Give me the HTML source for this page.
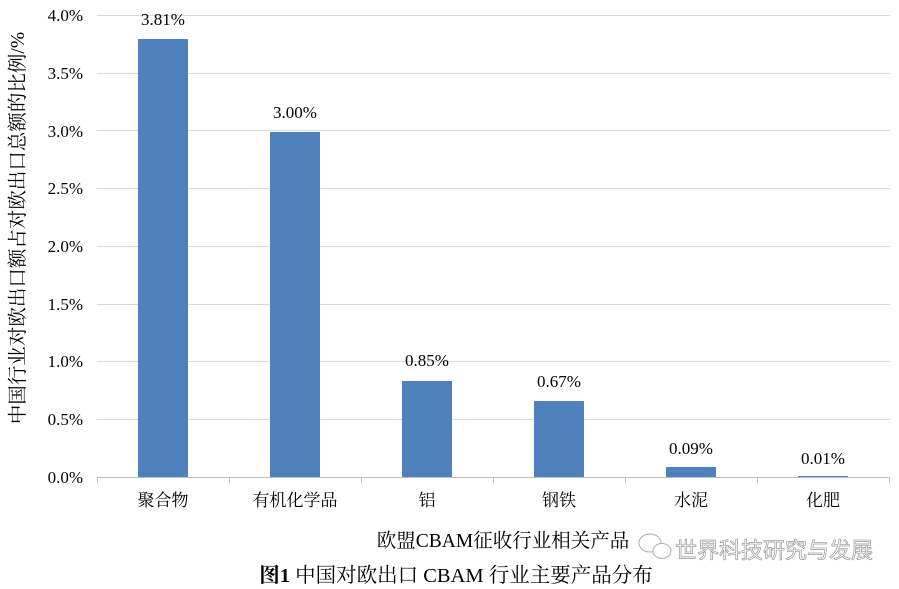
<!DOCTYPE html>
<html><head><meta charset="utf-8"><style>
body{margin:0;background:#fff;}
svg{display:block;font-family:"Liberation Serif","Noto Serif CJK SC",serif;}
</style></head><body>
<svg width="899" height="589" viewBox="0 0 899 589" xmlns="http://www.w3.org/2000/svg">
<rect width="899" height="589" fill="#fff"/>
<g stroke="#d9d9d9" stroke-width="1">
<line x1="97" x2="890" y1="15.5" y2="15.5"/>
<line x1="97" x2="890" y1="73.5" y2="73.5"/>
<line x1="97" x2="890" y1="130.5" y2="130.5"/>
<line x1="97" x2="890" y1="188.5" y2="188.5"/>
<line x1="97" x2="890" y1="246.5" y2="246.5"/>
<line x1="97" x2="890" y1="304.5" y2="304.5"/>
<line x1="97" x2="890" y1="361.5" y2="361.5"/>
<line x1="97" x2="890" y1="419.5" y2="419.5"/>
</g>
<line x1="97" x2="890" y1="477.5" y2="477.5" stroke="#bfbfbf"/>
<g stroke="#bfbfbf">
<line x1="97.5" x2="97.5" y1="477" y2="483"/><line x1="229.5" x2="229.5" y1="477" y2="483"/>
<line x1="361.5" x2="361.5" y1="477" y2="483"/><line x1="493.5" x2="493.5" y1="477" y2="483"/>
<line x1="625.5" x2="625.5" y1="477" y2="483"/><line x1="757.5" x2="757.5" y1="477" y2="483"/>
<line x1="889.5" x2="889.5" y1="477" y2="483"/>
</g>
<g fill="#4f81bd">
<rect x="138" y="39" width="50" height="438"/>
<rect x="270" y="132" width="50" height="345"/>
<rect x="402" y="381" width="50" height="96"/>
<rect x="534" y="401" width="50" height="76"/>
<rect x="666" y="467" width="50" height="10"/>
<rect x="798" y="476" width="50" height="1"/>
</g>
<g font-size="17" fill="#000" text-anchor="end">
<text x="83" y="21">4.0%</text><text x="83" y="79">3.5%</text><text x="83" y="137">3.0%</text>
<text x="83" y="194">2.5%</text><text x="83" y="252">2.0%</text><text x="83" y="310">1.5%</text>
<text x="83" y="367">1.0%</text><text x="83" y="425">0.5%</text><text x="83" y="483">0.0%</text>
</g>
<g font-size="17" fill="#000" text-anchor="middle">
<text x="163" y="25">3.81%</text><text x="295" y="118">3.00%</text><text x="427" y="366">0.85%</text>
<text x="559" y="387">0.67%</text><text x="691" y="454">0.09%</text><text x="823" y="464">0.01%</text>
<text x="163" y="506">聚合物</text><text x="295" y="506">有机化学品</text><text x="427" y="506">铝</text>
<text x="559" y="506">钢铁</text><text x="691" y="506">水泥</text><text x="823" y="506">化肥</text>
<text x="503" y="547" font-size="19.5">欧盟CBAM征收行业相关产品</text>
</g>
<text transform="translate(24,228) rotate(-90)" text-anchor="middle" font-size="19.5" fill="#000">中国行业对欧出口额占对欧出口总额的比例/%</text>
<text x="456" y="582" text-anchor="middle" font-size="20.5" fill="#000"><tspan font-weight="bold">图1</tspan>  中国对欧出口 CBAM 行业主要产品分布</text>
<g fill="#fff" stroke="#aaa" stroke-width="1">
<ellipse cx="650" cy="543" rx="11" ry="9"/><ellipse cx="662" cy="551" rx="9" ry="7.5"/>
</g>
<text x="675" y="558" font-size="22" fill="#fff" stroke="#999" stroke-width="0.7" font-family="Liberation Sans,Noto Sans CJK SC,sans-serif">世界科技研究与发展</text>
</svg>
</body></html>
